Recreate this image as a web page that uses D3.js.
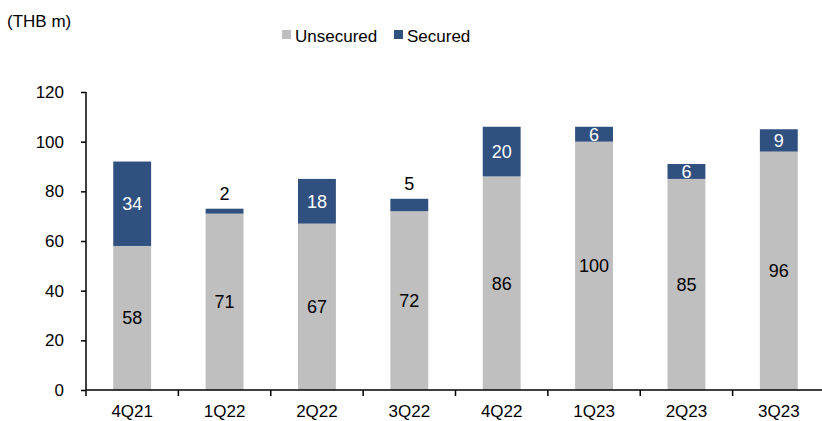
<!DOCTYPE html>
<html>
<head>
<meta charset="utf-8">
<script src="https://cdn.jsdelivr.net/npm/d3@7"></script>
<style>
  body { margin: 0; background: #fff; }
  text { font-family: "Liberation Sans", Arial, sans-serif; }
</style>
</head>
<body>
<script>
var quarters = ["4Q21", "1Q22", "2Q22", "3Q22", "4Q22", "1Q23", "2Q23", "3Q23"];
var unsecured = [58, 71, 67, 72, 86, 100, 85, 96];
var secured = [34, 2, 18, 5, 20, 6, 6, 9];
var yTicks = [0, 20, 40, 60, 80, 100, 120];
var seriesNames = ["Unsecured", "Secured"];
var colors = {Unsecured: "#bfbfbf", Secured: "#30507f"};

var width = 822, height = 421;
var margin = {top: 92, right: -3, bottom: 31, left: 86};

var svg = d3.select("body").append("svg")
    .attr("width", width)
    .attr("height", height);

var data = quarters.map(function (q, i) {
    return {q: q, Unsecured: unsecured[i], Secured: secured[i]};
});

var x = d3.scaleBand()
    .domain(quarters)
    .range([margin.left, width - margin.right])
    .paddingInner(0.59)
    .paddingOuter(0.295);

var y = d3.scaleLinear()
    .domain([0, 120])
    .range([height - margin.bottom, margin.top]);

var layers = d3.stack().keys(seriesNames)(data);

svg.append("g")
    .selectAll("g")
    .data(layers)
    .enter().append("g")
    .attr("fill", function (d) { return colors[d.key]; })
    .selectAll("rect")
    .data(function (d) { return d; })
    .enter().append("rect")
    .attr("x", function (d) { return x(d.data.q); })
    .attr("y", function (d) { return y(d[1]); })
    .attr("height", function (d) { return y(d[0]) - y(d[1]); })
    .attr("width", x.bandwidth());

// value labels
layers.forEach(function (layer) {
    svg.append("g")
        .selectAll("text")
        .data(layer)
        .enter().append("text")
        .attr("text-anchor", "middle")
        .attr("font-size", 18)
        .attr("x", function (d) { return x(d.data.q) + x.bandwidth() / 2; })
        .attr("y", function (d) {
            var v = d[1] - d[0];
            if (layer.key === "Secured" && v < 6) return y(d[1]) - 9;
            return (y(d[0]) + y(d[1])) / 2 + 6.5;
        })
        .attr("fill", function (d) {
            if (layer.key === "Secured" && d[1] - d[0] >= 6) return "#fff";
            return "#000";
        })
        .text(function (d) { return d[1] - d[0]; });
});

// y axis
var yAxis = svg.append("g")
    .attr("transform", "translate(" + margin.left + ",0)")
    .call(d3.axisLeft(y).tickValues(yTicks).tickSize(5).tickPadding(17));
yAxis.select(".domain").attr("stroke", "#000").attr("stroke-width", 1.5)
    .attr("d", "M0," + y(120) + "V" + y(0));
yAxis.selectAll(".tick line").attr("stroke", "#000").attr("stroke-width", 1.5);
yAxis.selectAll(".tick text").attr("font-size", 17).attr("fill", "#000")
    .attr("font-family", "Liberation Sans, Arial, sans-serif");

// x axis
var xAxis = svg.append("g")
    .attr("transform", "translate(0," + y(0) + ")");
xAxis.append("line")
    .attr("x1", margin.left).attr("x2", width)
    .attr("stroke", "#000").attr("stroke-width", 1.5);
var step = x.step();
xAxis.selectAll(".sep")
    .data(quarters)
    .enter().append("line")
    .attr("class", "sep")
    .attr("x1", function (d) { return x(d) - step * 0.295; })
    .attr("x2", function (d) { return x(d) - step * 0.295; })
    .attr("y1", 0).attr("y2", 6)
    .attr("stroke", "#000").attr("stroke-width", 1.5);
xAxis.selectAll(".lbl")
    .data(quarters)
    .enter().append("text")
    .attr("class", "lbl")
    .attr("text-anchor", "middle")
    .attr("font-size", 17)
    .attr("x", function (d) { return x(d) + x.bandwidth() / 2; })
    .attr("y", 27)
    .text(function (d) { return d; });

// unit label
svg.append("text")
    .attr("x", 7).attr("y", 27)
    .attr("font-size", 17)
    .text("(THB m)");

// legend
var legend = svg.append("g").attr("transform", "translate(282,42)");
var legendX = [0, 112];
seriesNames.forEach(function (name, i) {
    var g = legend.append("g").attr("transform", "translate(" + legendX[i] + ",0)");
    g.append("rect").attr("x", 0).attr("y", -12).attr("width", 9).attr("height", 9)
        .attr("fill", colors[name]);
    g.append("text").attr("x", 13).attr("y", 0).attr("font-size", 17).text(name);
});
</script>
</body>
</html>
